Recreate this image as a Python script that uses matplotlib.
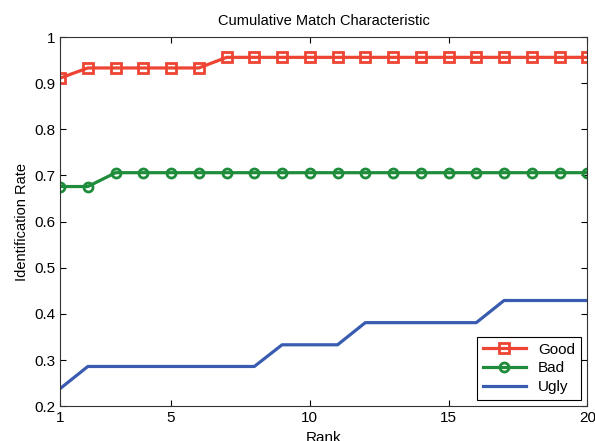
import matplotlib.pyplot as plt

plt.rcParams['font.family'] = ['Liberation Sans', 'DejaVu Sans']

rank = list(range(1, 21))
good = [0.911] + [0.933] * 5 + [0.956] * 14
bad = [0.676] * 2 + [0.706] * 18
ugly = [0.238] + [0.286] * 7 + [0.333] * 3 + [0.381] * 5 + [0.429] * 4

fig = plt.figure(figsize=(5.95, 4.41), dpi=100)
ax = fig.add_axes([0.101, 0.079, 0.886, 0.837])

ax.plot(rank, good, color='#ee4433', lw=2.3, marker='s', ms=6.5,
        mfc='none', mew=2, label='Good')
ax.plot(rank, bad, color='#1f8c3b', lw=2.3, marker='o', ms=6.5,
        mfc='none', mew=2, label='Bad')
ax.plot(rank, ugly, color='#3a5cb0', lw=2.3, label='Ugly')

ax.set_xlim(1, 20)
ax.set_ylim(0.2, 1)
ax.set_xticks([1, 5, 10, 15, 20])
ax.set_yticks([0.2, 0.3, 0.4, 0.5, 0.6, 0.7, 0.8, 0.9, 1])
ax.set_yticklabels(['0.2', '0.3', '0.4', '0.5', '0.6', '0.7', '0.8', '0.9', '1'])
ax.tick_params(direction='in', top=True, right=True, labelsize=11, length=4)
for s in ax.spines.values():
    s.set_color('#333333')

ax.set_title('Cumulative Match Characteristic', fontsize=10.5, pad=9)
ax.set_xlabel('Rank', fontsize=11, labelpad=4)
ax.set_ylabel('Identification Rate', fontsize=10.5)

leg = ax.legend(loc='lower right', fontsize=11, fancybox=False,
                edgecolor='black', framealpha=1, handlelength=2.8,
                borderaxespad=0.4, labelspacing=0.3)
leg.get_frame().set_linewidth(0.8)

fig.savefig('out.png', dpi=100)
